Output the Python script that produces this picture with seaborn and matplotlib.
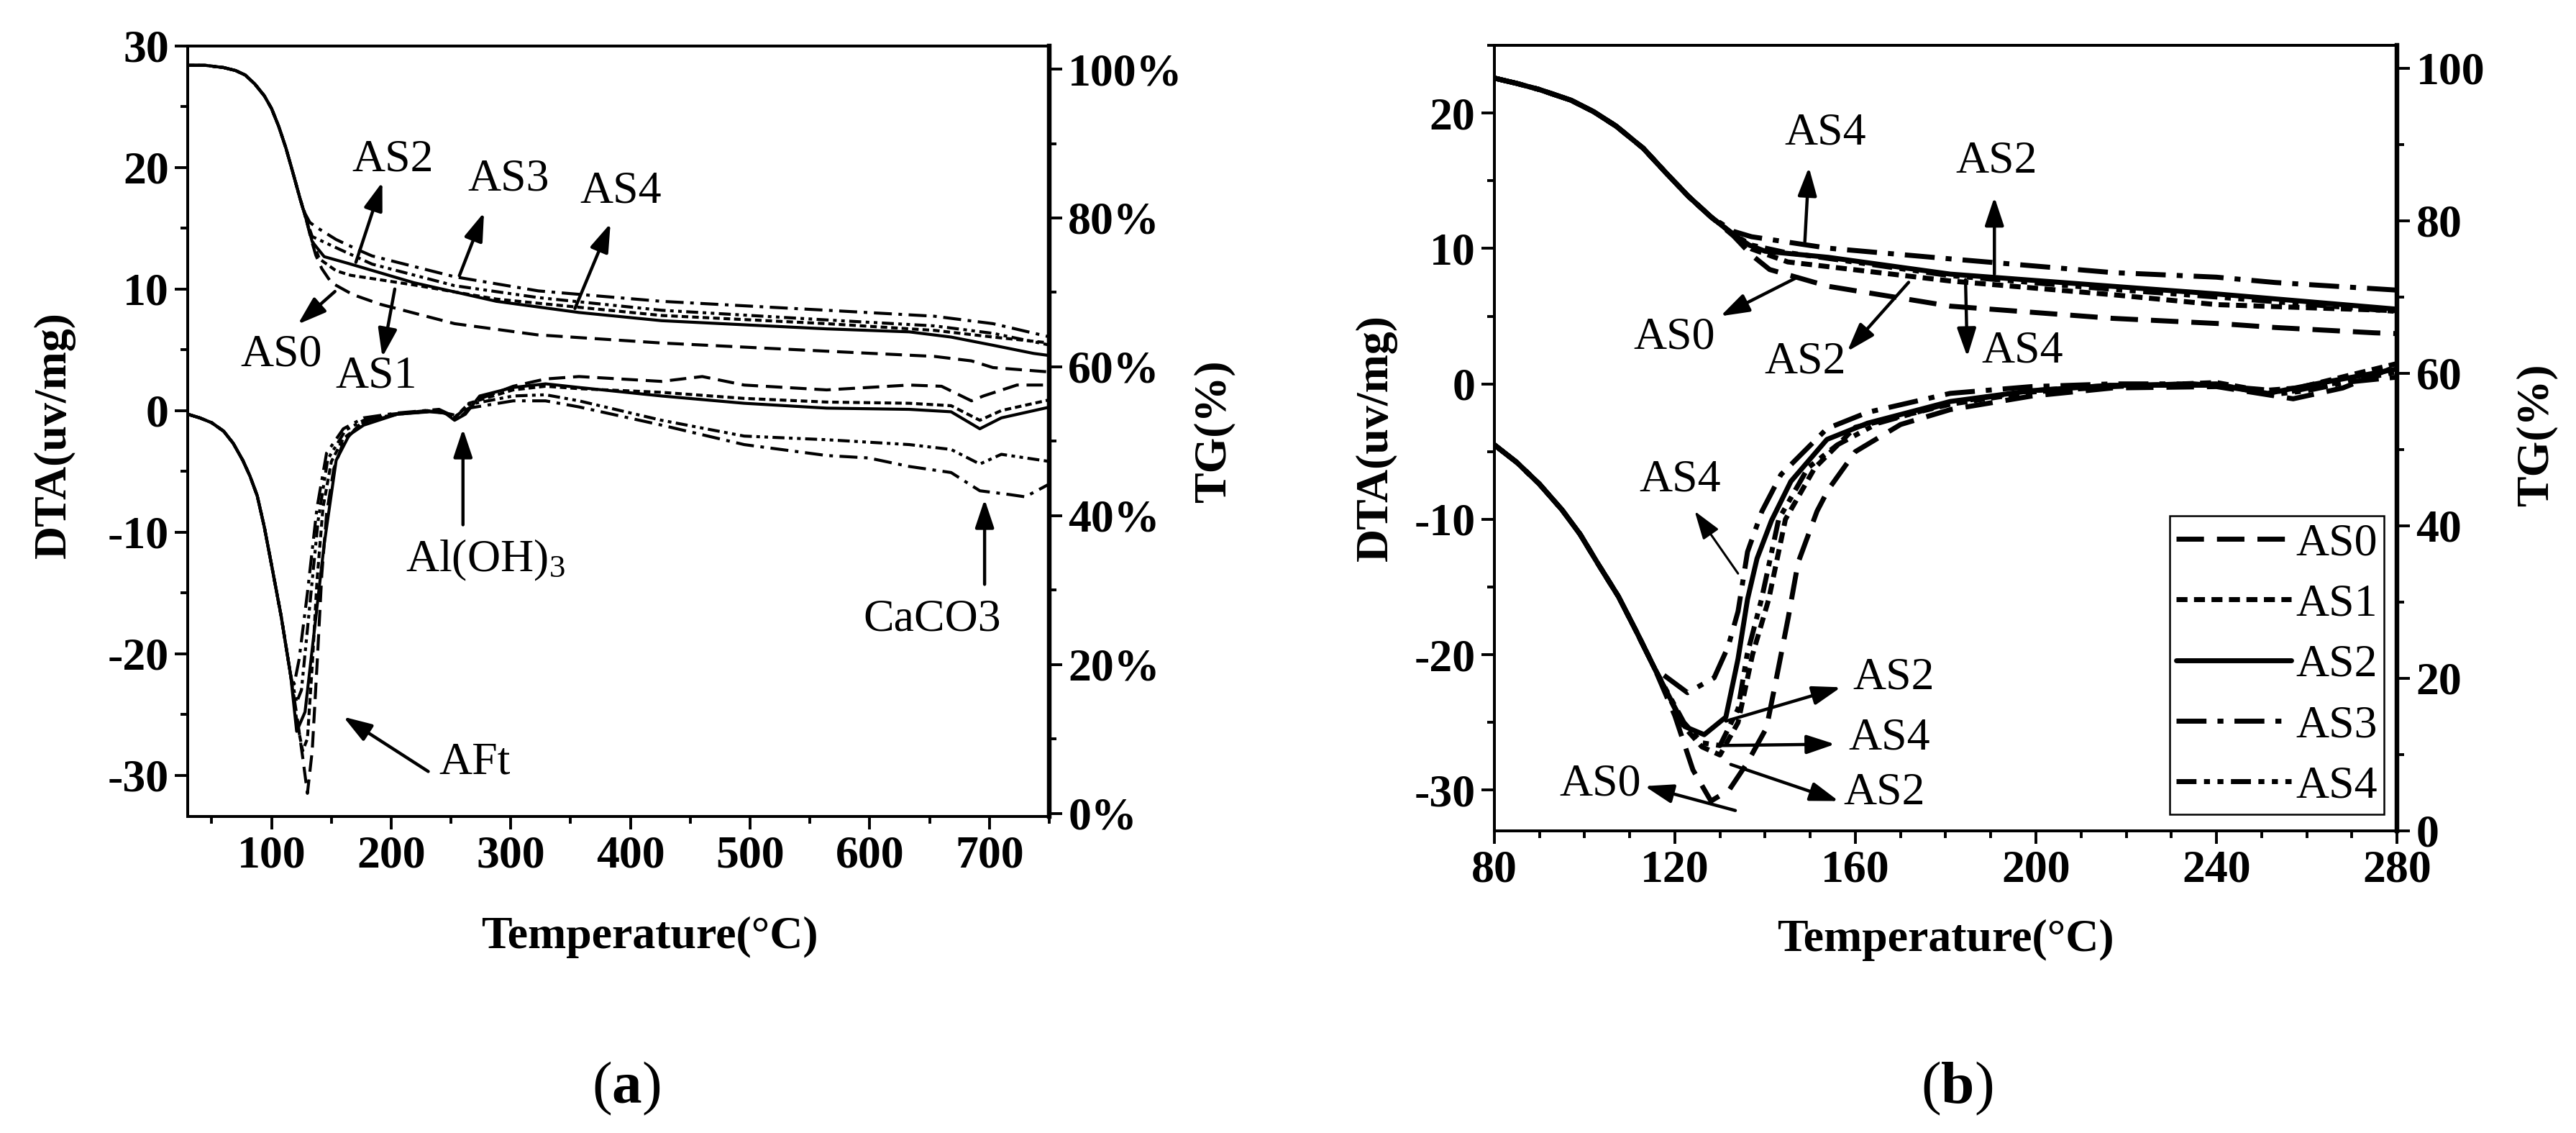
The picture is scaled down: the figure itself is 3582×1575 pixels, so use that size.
import matplotlib
matplotlib.use("Agg")
import matplotlib.pyplot as plt
from matplotlib.ticker import MultipleLocator, PercentFormatter
import seaborn as sns

names = ['AS0', 'AS1', 'AS2', 'AS3', 'AS4']

# ---------------- panel (a): 30-750 C ----------------
# shared start of the curves (all samples overlap there)
a_tg_head_x = [30, 45, 60, 70, 78, 86, 94, 100, 106, 112, 118, 124]
a_tg_head_y = [100.5, 100.5, 100.2, 99.8, 99.2, 98.0, 96.4, 94.7, 92.3, 89.4, 86.0, 82.5]
a_dta_head_x = [30, 40, 50, 60, 68, 76, 82, 88, 94, 100, 108, 116]
a_dta_head_y = [-0.3, -0.6, -1.0, -1.7, -2.7, -4.1, -5.4, -7.0, -9.6, -12.7, -16.9, -21.8]

a_tg_tail_x = {
    'AS0': [129, 133, 137, 142, 150, 168, 191, 253, 322, 426, 564, 654, 685, 703, 751],
    'AS1': [129, 134, 140, 154, 166, 219, 288, 426, 564, 654, 703, 751],
    'AS2': [129, 134, 144, 164, 219, 288, 357, 426, 564, 633, 668, 703, 737, 751],
    'AS3': [128, 132, 138, 154, 174, 184, 253, 323, 426, 564, 654, 703, 751],
    'AS4': [129, 134, 154, 184, 253, 323, 426, 564, 654, 703, 751],
}
a_tg_tail_y = {
    'AS0': [79.8, 77.2, 75.0, 73.2, 71.3, 69.7, 68.4, 65.8, 64.3, 63.2, 62.1, 61.4, 60.8, 59.9, 59.3],
    'AS1': [79.8, 77.0, 74.5, 72.9, 72.3, 71.0, 69.1, 66.9, 65.8, 64.9, 64.0, 63.2],
    'AS2': [79.8, 76.8, 74.8, 73.9, 71.3, 68.8, 67.3, 66.2, 65.1, 64.7, 64.0, 62.9, 61.8, 61.5],
    'AS3': [80.6, 79.4, 78.7, 77.1, 75.6, 74.9, 72.1, 70.2, 68.8, 67.6, 66.8, 65.8, 64.0],
    'AS4': [79.8, 77.5, 76.0, 73.8, 70.9, 69.3, 67.6, 66.3, 65.5, 64.5, 62.9],
}
a_dta_tail_x = {
    'AS0': [121, 126, 130, 134, 138, 142, 146, 152, 160, 175, 200, 230, 250, 258, 275, 302, 329, 357, 426, 460,
            495, 564, 633, 660, 685, 695, 723, 751],
    'AS1': [121, 126, 130, 134, 138, 143, 150, 160, 177, 205, 240, 253, 265, 302, 329, 357, 426, 495, 564, 633,
            668, 692, 710, 751],
    'AS2': [121, 128, 136, 144, 154, 165, 177, 205, 232, 245, 253, 262, 274, 302, 329, 357, 426, 495, 564, 633,
            668, 692, 710, 751],
    'AS3': [119, 123, 130, 138, 146, 160, 177, 205, 240, 253, 265, 302, 329, 357, 426, 495, 564, 599, 633, 668,
            692, 716, 730, 751],
    'AS4': [121, 125, 131, 139, 147, 162, 177, 205, 240, 253, 265, 302, 329, 357, 426, 495, 564, 633, 668, 692,
            710, 751],
}
a_dta_tail_y = {
    'AS0': [-25.0, -28.5, -31.5, -28.0, -21.0, -13.5, -8.5, -4.8, -2.6, -1.0, -0.3, 0.0, -0.3, -0.5, 1.0, 2.0,
            2.6, 2.8, 2.4, 2.8, 2.1, 1.7, 2.1, 2.0, 0.8, 1.2, 2.1, 2.1],
    'AS1': [-25.5, -28.0, -27.0, -21.0, -14.0, -8.0, -4.2, -2.3, -1.0, -0.3, 0.0, -0.6, 0.6, 1.7, 2.0, 1.8, 1.5,
            1.0, 0.7, 0.6, 0.4, -0.8, 0.0, 0.9],
    'AS2': [-26.4, -24.8, -17.9, -11.0, -4.1, -2.0, -1.2, -0.3, -0.1, -0.2, -0.8, -0.3, 1.2, 1.9, 2.2, 1.9, 1.2,
            0.6, 0.2, 0.1, -0.1, -1.5, -0.6, 0.3],
    'AS3': [-22.5, -20.5, -15.0, -8.0, -3.5, -1.5, -0.6, -0.2, 0.1, -0.5, 0.2, 0.8, 0.8, 0.3, -1.2, -2.8, -3.7,
            -3.9, -4.6, -5.1, -6.6, -6.9, -7.1, -6.0],
    'AS4': [-24.0, -23.0, -17.0, -9.0, -4.0, -1.6, -0.8, -0.3, 0.0, -0.6, 0.5, 1.2, 1.3, 0.8, -0.8, -2.1, -2.4,
            -2.8, -3.2, -4.4, -3.6, -4.2],
}

# ---------------- panel (b): 80-280 C ----------------
b_tg_head_x = [80, 85, 90, 97, 102, 107, 113, 118, 123, 128]
b_tg_head_y = [98.7, 98.0, 97.2, 95.8, 94.3, 92.4, 89.5, 86.3, 83.2, 80.5]
b_dta_head_x = [80, 85, 90, 95, 99, 103, 107.5, 111.5, 115.5]
b_dta_head_y = [-4.5, -5.8, -7.4, -9.3, -11.1, -13.3, -15.7, -18.3, -21.0]

b_tg_tail_x = {
    'AS0': [133, 137, 141, 154, 181, 217, 241, 253, 275, 280],
    'AS1': [133, 137, 145, 181, 217, 240, 280],
    'AS2': [133, 136.5, 140, 154, 181, 217, 240, 280],
    'AS3': [133, 137, 154, 181, 217, 240, 253, 280],
    'AS4': [133, 137, 144, 181, 217, 240, 280],
}
b_tg_tail_y = {
    'AS0': [78.0, 75.5, 73.6, 71.4, 68.8, 67.2, 66.5, 66.0, 65.3, 65.2],
    'AS1': [78.2, 76.3, 74.6, 72.1, 70.3, 69.0, 68.2],
    'AS2': [78.2, 76.8, 76.0, 75.2, 73.0, 71.4, 70.4, 68.4],
    'AS3': [78.6, 77.9, 76.4, 75.0, 73.2, 72.6, 71.9, 70.9],
    'AS4': [78.2, 76.8, 75.9, 72.8, 71.0, 70.0, 68.1],
}
b_dta_tail_x = {
    'AS0': [120, 124, 128, 132, 136, 140.3, 142.7, 145.1, 147.3, 151.5, 154, 160, 170, 181, 199, 217, 240, 257,
            268, 280],
    'AS1': [122, 126, 130, 134, 137.2, 140.8, 144.5, 151, 160, 181, 199, 217, 240, 250, 258, 280],
    'AS2': [122.2, 126.5, 131.3, 134, 136.1, 138.2, 141.4, 145.7, 153.7, 162.7, 181, 199, 217, 240, 251.4, 262,
            280],
    'AS3': [122.8, 128.7, 131.8, 134, 136.1, 139.3, 143.5, 153.7, 162.7, 181, 199, 217, 235, 249.6, 256, 265, 280],
    'AS4': [122, 126, 130, 134, 136, 139.2, 143, 149.5, 156, 165, 181, 199, 217, 240, 252, 260, 280],
}
b_dta_tail_y = {
    'AS0': [-24.5, -28.5, -30.8, -30.0, -28.0, -25.4, -21.4, -17.3, -13.2, -9.4, -7.8, -5.0, -3.0, -1.9, -0.9,
            -0.3, -0.2, -1.1, -0.3, 1.3],
    'AS1': [-25.3, -26.8, -27.4, -25.0, -20.0, -15.9, -10.0, -6.2, -3.2, -1.5, -0.6, -0.2, 0.1, -0.5, -0.3, 1.5],
    'AS2': [-25.3, -25.9, -24.6, -20.3, -15.9, -12.9, -10.1, -7.2, -4.1, -2.9, -1.3, -0.5, -0.1, -0.1, -0.7, 0.0,
            1.1],
    'AS3': [-22.8, -21.7, -19.4, -16.8, -12.4, -9.4, -6.7, -3.3, -2.1, -0.7, -0.2, 0.0, 0.0, -0.4, -0.6, 0.0, 0.5],
    'AS4': [-25.0, -26.5, -26.7, -24.0, -20.0, -15.9, -10.0, -6.2, -4.5, -2.9, -1.4, -0.5, -0.1, 0.0, -0.8, -0.5,
            0.9],
}

# line style for each sample (dash lengths in units of line width)
styles = {
    'AS0': (0, (5.5, 2.6)),
    'AS1': (0, (2.2, 1.3)),
    'AS2': '-',
    'AS3': (0, (6, 2.2, 1.2, 2.2)),
    'AS4': (0, (4, 1.5, 1.2, 1.5, 1.2, 1.5)),
}

sns.set_theme(style="ticks", rc={'axes.edgecolor': 'black', 'xtick.color': 'black', 'ytick.color': 'black',
                                 'text.color': 'black', 'axes.labelcolor': 'black'})
plt.rcParams['font.family'] = ['Liberation Serif', 'DejaVu Serif']
plt.rcParams['font.weight'] = 'bold'
plt.rcParams['axes.labelweight'] = 'bold'
plt.rcParams['axes.unicode_minus'] = False
plt.rcParams['mathtext.fontset'] = 'custom'
plt.rcParams['mathtext.rm'] = 'Liberation Serif'
plt.rcParams['mathtext.bf'] = 'Liberation Serif:bold'
plt.rcParams['mathtext.it'] = 'Liberation Serif:italic'

FS = 46

fig = plt.figure(figsize=(35.82, 15.75), dpi=100)
ax_a = fig.add_axes([0.0729, 0.2794, 0.3344, 0.680])
ax_b = fig.add_axes([0.5801, 0.2667, 0.3504, 0.6933])
ax_a2 = ax_a.twinx()
ax_b2 = ax_b.twinx()


def draw(ax, xs, ys, name, lw):
    sns.lineplot(x=xs, y=ys, ax=ax, color='black', lw=lw, linestyle=styles[name],
                 estimator=None, sort=False, legend=False, label=name)


for n in names:
    draw(ax_a, a_dta_head_x + a_dta_tail_x[n], a_dta_head_y + a_dta_tail_y[n], n, 3.0)
    draw(ax_a2, a_tg_head_x + a_tg_tail_x[n], a_tg_head_y + a_tg_tail_y[n], n, 3.0)
    draw(ax_b, b_dta_head_x + b_dta_tail_x[n], b_dta_head_y + b_dta_tail_y[n], n, 5.0)
    draw(ax_b2, b_tg_head_x + b_tg_tail_x[n], b_tg_head_y + b_tg_tail_y[n], n, 5.0)

# axes limits and ticks
ax_a.set_xlim(30, 750)
ax_a.set_ylim(-33.4, 30)
ax_a.xaxis.set_major_locator(MultipleLocator(100))
ax_a.xaxis.set_minor_locator(MultipleLocator(50))
ax_a.yaxis.set_major_locator(MultipleLocator(10))
ax_a.yaxis.set_minor_locator(MultipleLocator(5))
ax_a2.set_ylim(-0.4, 103.1)
ax_a2.yaxis.set_major_locator(MultipleLocator(20))
ax_a2.yaxis.set_minor_locator(MultipleLocator(10))
ax_a2.yaxis.set_major_formatter(PercentFormatter(xmax=100, decimals=0))

ax_b.set_xlim(80, 280)
ax_b.set_ylim(-33, 25)
ax_b.xaxis.set_major_locator(MultipleLocator(40))
ax_b.xaxis.set_minor_locator(MultipleLocator(10))
ax_b.yaxis.set_major_locator(MultipleLocator(10))
ax_b.yaxis.set_minor_locator(MultipleLocator(5))
ax_b2.set_ylim(0, 103)
ax_b2.yaxis.set_major_locator(MultipleLocator(20))
ax_b2.yaxis.set_minor_locator(MultipleLocator(10))

for ax in [ax_a, ax_a2, ax_b, ax_b2]:
    ax.tick_params(which='major', direction='out', length=13, width=2.8, labelsize=FS, pad=6)
    ax.tick_params(which='minor', direction='out', length=7, width=2.8)
    for s in ax.spines.values():
        s.set_linewidth(2.8)
        s.set_color('black')
    ax.spines['right'].set_linewidth(4.5)
    ax.set_ylabel('')
    ax.set_xlabel('')

for ax, ax2, xl, yl, tl in [(ax_a, ax_a2, (0.536, -0.157), (-0.155, 0.495), (1.192, 0.50)),
                            (ax_b, ax_b2, (0.4996, -0.139), (-0.131, 0.50), (1.155, 0.504))]:
    ax.set_xlabel('Temperature(°C)', fontsize=FS)
    ax.set_ylabel('DTA(uv/mg)', fontsize=FS)
    ax2.set_ylabel('TG(%)', fontsize=FS)
    ax.xaxis.set_label_coords(*xl)
    ax.yaxis.set_label_coords(*yl)
    ax2.yaxis.set_label_coords(*tl)
    ax.xaxis.label.set_va('center')
    ax.yaxis.label.set_va('center')
    ax2.yaxis.label.set_va('center')

arrow = dict(arrowstyle='-|>,head_length=1.2,head_width=0.4', mutation_scale=20, lw=3.2,
             color='black', shrinkA=0, shrinkB=0)


def note(ax, text, tx, ty, tail, head, ha='center', lw=3.2):
    props = dict(arrow)
    props['lw'] = lw
    ax.annotate('', xy=head, xytext=tail, arrowprops=props)
    ax.text(tx, ty, text, ha=ha, va='center', fontsize=FS, fontweight='normal')


# panel (a) annotations
note(ax_a, 'AS2', 201.6, 20.6, (170.5, 12.2), (192.6, 18.8))
note(ax_a, 'AS3', 298, 19.0, (257, 11.1), (277.6, 16.3))
note(ax_a, 'AS4', 391.6, 18.0, (353.6, 8.4), (383.3, 15.4))
note(ax_a, 'AS0', 108.3, 4.6, (153, 9.8), (122, 7.1))
note(ax_a, 'AS1', 187.8, 2.8, (203, 10.0), (192.6, 4.4))
note(ax_a, r'$\mathregular{Al(OH)_3}$', 279, -12.3, (260, -9.4), (260, -1.5))
note(ax_a, 'CaCO3', 652, -17.2, (696, -14.3), (696, -7.3))
note(ax_a, 'AFt', 240, -29.0, (231, -29.7), (160, -25.2), ha='left')

# panel (b) annotations
note(ax_b, 'AS4', 153.3, 18.5, (148.8, 10.5), (149.7, 16.0))
note(ax_b, 'AS2', 191.3, 16.4, (190.8, 8.1), (190.8, 13.8))
note(ax_b, 'AS0', 119.8, 3.4, (147.3, 7.9), (130.1, 5.0))
note(ax_b, 'AS2', 148.8, 1.6, (171.8, 7.5), (158.2, 2.4))
note(ax_b, 'AS4', 197, 2.4, (184.4, 7.7), (184.8, 2.0))
note(ax_b, 'AS4', 121.2, -7.1, (134, -14.0), (124.4, -9.4), lw=2.2)
note(ax_b, 'AS2', 159.5, -21.7, (131.3, -24.9), (156.8, -22.4), ha='left')
note(ax_b, 'AS4', 158.4, -26.2, (130.2, -26.7), (155.5, -26.6), ha='left')
note(ax_b, 'AS2', 157.3, -30.2, (132.4, -28.1), (156.3, -30.8), ha='left')
note(ax_b, 'AS0', 103.4, -29.6, (133.4, -31.5), (113.3, -29.7))

# legend of panel (b)
handles = ax_b.get_lines()[:5]
leg = ax_b2.legend(handles, names, loc='lower right', bbox_to_anchor=(0.986, 0.021),
                   bbox_transform=ax_b2.transAxes, frameon=True, fancybox=False, edgecolor='black',
                   framealpha=1, prop={'size': FS, 'weight': 'normal'}, handlelength=2.5,
                   handletextpad=0.1, borderpad=0.15, labelspacing=0.4, borderaxespad=0)
leg.get_frame().set_linewidth(1.8)

fig.text(0.2432, 0.0394, r'($\mathbf{a}$)', ha='center', va='center', fontsize=60, fontweight='normal')
fig.text(0.7596, 0.0394, r'($\mathbf{b}$)', ha='center', va='center', fontsize=60, fontweight='normal')

fig.savefig('out.png', dpi=100)
